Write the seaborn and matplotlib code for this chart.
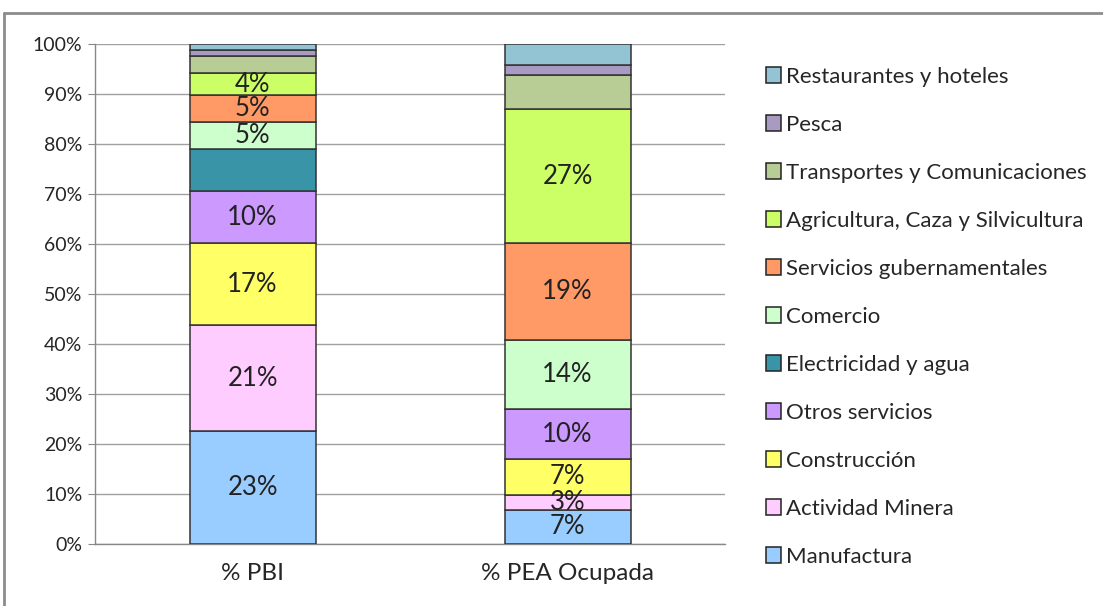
import numpy as np
import pandas as pd
import seaborn as sns
from matplotlib import pyplot as plt
from matplotlib.patches import Patch

categorias = ["% PBI", "% PEA Ocupada"]

sectores = ["Manufactura", "Actividad Minera", "Construcción", "Otros servicios",
            "Electricidad y agua", "Comercio", "Servicios gubernamentales",
            "Agricultura, Caza y Silvicultura", "Transportes y Comunicaciones",
            "Pesca", "Restaurantes y hoteles"]

pbi = [22.6, 21.2, 16.4, 10.4, 8.4, 5.4, 5.4, 4.4, 3.4, 1.1, 1.3]
pea = [6.8, 3.0, 7.2, 10.0, 0.0, 13.8, 19.4, 26.8, 6.8, 2.1, 4.1]

etiquetas_pbi = ["23%", "21%", "17%", "10%", "", "5%", "5%", "4%", "", "", ""]
etiquetas_pea = ["7%", "3%", "7%", "10%", "", "14%", "19%", "27%", "", "", ""]

colores = ["#99CCFF", "#FFCCFF", "#FFFF66", "#CC99FF", "#3A94A8", "#CCFFCC",
           "#FF9966", "#CCFF66", "#B8CD96", "#A99AC2", "#92C4D3"]

sns.set_style("white")
plt.rcParams['font.family'] = ['Lato', 'DejaVu Sans']

fig = plt.figure(figsize=(11.03, 6.06), dpi=100)
ax = fig.add_axes([95 / 1103, 62 / 606, 630 / 1103, 500 / 606])

df = pd.DataFrame({"sector": np.repeat(sectores, 2),
                   "categoria": categorias * len(sectores),
                   "valor": np.ravel(np.column_stack([pbi, pea]))})

base = np.zeros(2)
for i, sector in enumerate(sectores):
    sub = df[df["sector"] == sector]
    vals = sub["valor"].to_numpy()
    sns.barplot(data=sub, x="categoria", y="valor", order=categorias, ax=ax,
                color=colores[i], saturation=1, width=0.4, bottom=base,
                edgecolor="#333333", linewidth=1.1, errorbar=None, zorder=3)
    for j, txt in enumerate([etiquetas_pbi[i], etiquetas_pea[i]]):
        if txt:
            ax.text(j, base[j] + vals[j] / 2, txt, ha="center", va="center",
                    fontsize=18.5, color="#222222", zorder=4)
    base = base + vals

ax.set_xlim(-0.5, 1.5)
ax.set_ylim(0, 100)
ax.set_yticks(np.arange(0, 101, 10))
ax.set_yticklabels([f"{v}%" for v in range(0, 101, 10)], fontsize=14)
ax.set_xticks([0, 1])
ax.set_xticklabels(categorias, fontsize=17.5)
ax.set_xticks([-0.5, 0.5, 1.5], minor=True)
ax.tick_params(axis="x", which="major", length=0, pad=14)
ax.tick_params(axis="x", which="minor", length=6, color="#888888", direction="out")
ax.tick_params(axis="y", length=5, color="#888888", direction="out", left=True, pad=4)
ax.set_xlabel("")
ax.set_ylabel("")
ax.yaxis.grid(True, color="#A0A0A0", linewidth=1, zorder=0)
ax.set_axisbelow(True)
for s in ["top", "right"]:
    ax.spines[s].set_visible(False)
for s in ["left", "bottom"]:
    ax.spines[s].set_color("#888888")
    ax.spines[s].set_linewidth(1)

handles = [Patch(facecolor=colores[i], edgecolor="#222222", linewidth=1.1, label=sectores[i])
           for i in range(len(sectores))][::-1]
fig.legend(handles=handles, loc="upper left", bbox_to_anchor=(757 / 1103, 1 - 58 / 606),
           frameon=False, fontsize=16, labelspacing=1.26, handlelength=0.7,
           handleheight=0.7, handletextpad=0.2, borderaxespad=0)

# marco del gráfico
fig.add_artist(plt.Line2D([4 / 1103, 1], [1 - 13 / 606, 1 - 13 / 606], color="#8C8C8C", linewidth=2))
fig.add_artist(plt.Line2D([4 / 1103, 4 / 1103], [0, 1 - 13 / 606], color="#8C8C8C", linewidth=2))

fig.savefig("out.png", dpi=100)
